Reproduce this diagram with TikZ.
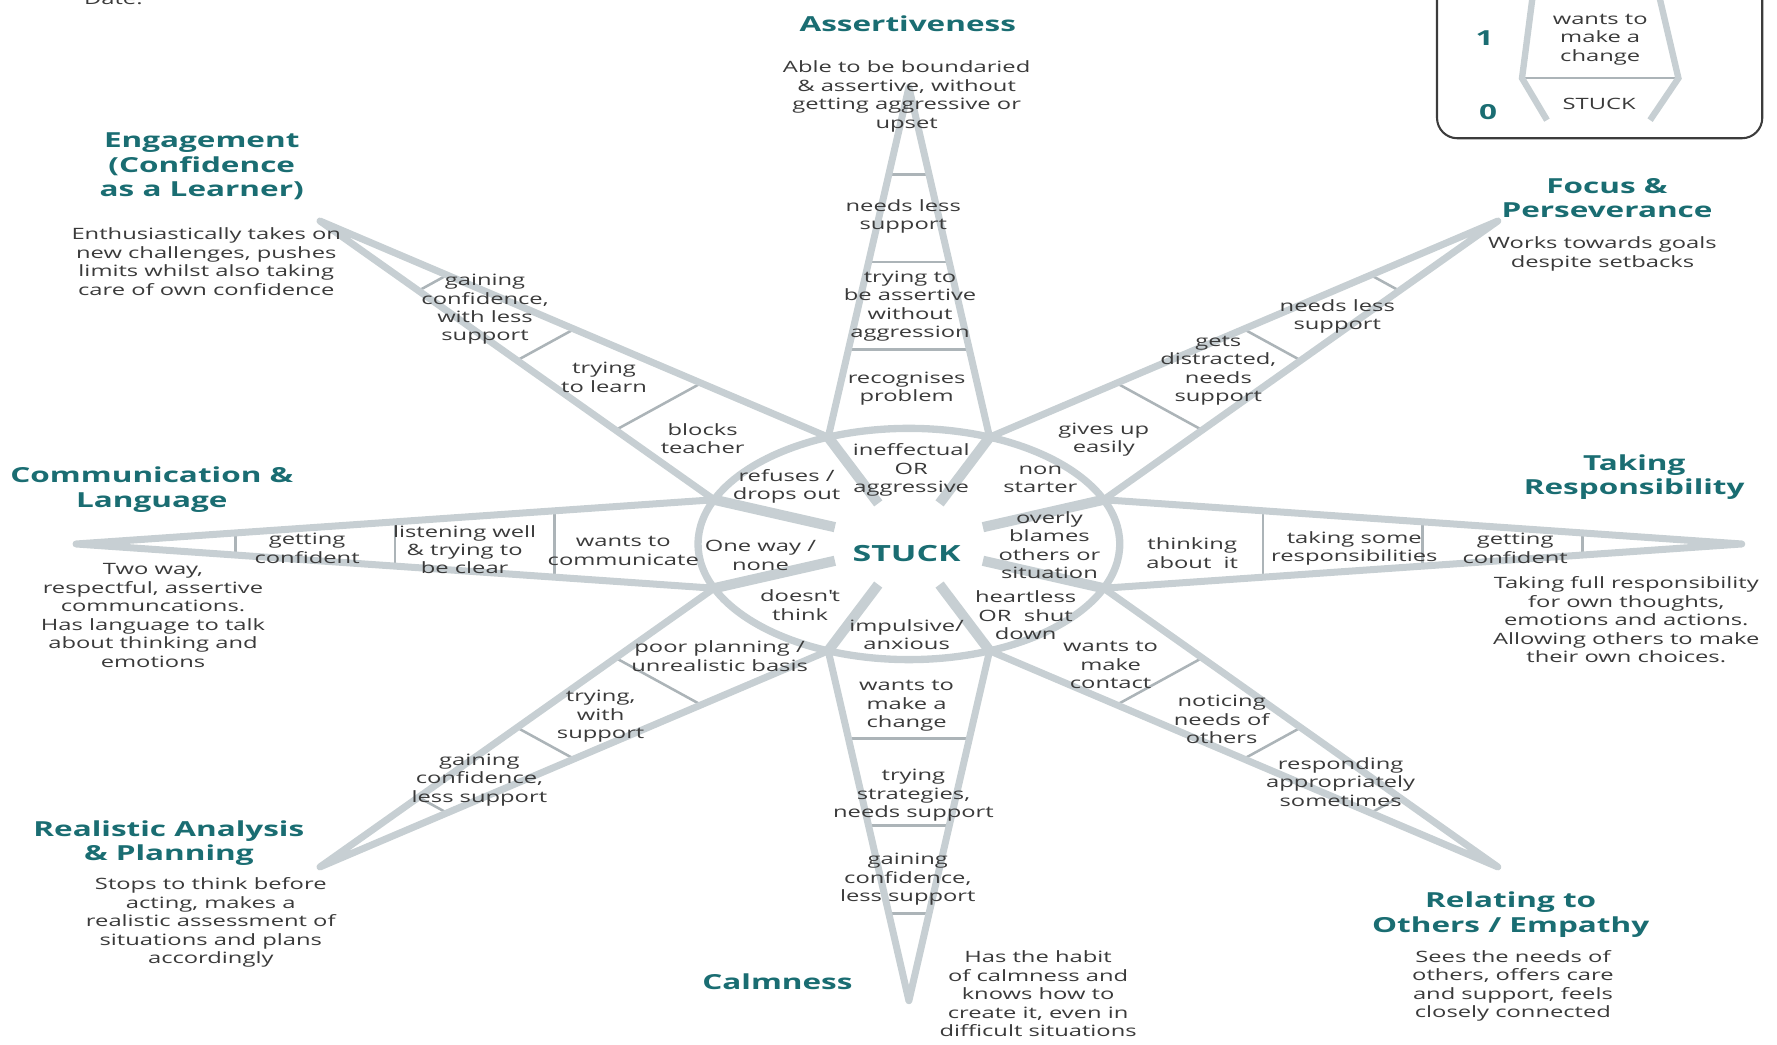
\documentclass[tikz,border=0pt]{standalone}
\usepackage{fontspec}
\setmainfont{Open Sans}[FakeStretch=1.52]
\usetikzlibrary{calc}
\definecolor{spikegray}{RGB}{199,207,211}
\definecolor{runggray}{RGB}{172,180,184}
\definecolor{headteal}{RGB}{26,109,114}
\definecolor{inkgray}{RGB}{58,58,58}
\definecolor{framegray}{RGB}{60,60,60}
\begin{document}
\begin{tikzpicture}
     [
     x=0.025cm, y=-0.025cm,
     spike/.style={draw=spikegray, line width=4.4pt, line join=round, line cap=round},
     spoke/.style={draw=spikegray, line width=6.4pt},
     ring/.style={draw=spikegray, line width=4.6pt},
     rung/.style={draw=runggray, line width=1.6pt},
     stage/.style={align=center, inner sep=0pt, text=inkgray, font=\fontsize{9.8}{11.6}\selectfont},
     heading/.style={align=center, inner sep=0pt, text=headteal, font=\fontsize{13}{15.3}\selectfont\bfseries},
     stuckbox/.style={inner sep=0pt, text=headteal, font=\fontsize{14}{16}\selectfont\bfseries},
     keyframe/.style={draw=framegray, line width=1.3pt, rounded corners=0.45cm},
     keyspike/.style={draw=spikegray, line width=4pt},
     ]
 \useasboundingbox (0,0) rectangle (1568,922);
 % star
 \begin{scope}[shift={(802,480)}, x=4.65cm, y=2.55cm]
 \coordinate (hub) at (0,0);
 \foreach \a [count=\i] in {90,45,0,-45,-90,-135,180,135} {
   \coordinate (tip\i) at (\a:3.95);
   \coordinate (jl\i) at (\a+22.5:1);
   \coordinate (jr\i) at (\a-22.5:1);
   \coordinate (sp\i) at (\a+22.5:0.38);
 }
 \foreach \i in {1,...,8} {
   \foreach \t in {0.25,0.5,0.75}
     \draw[rung] ($(jl\i)!\t!(tip\i)$) -- ($(jr\i)!\t!(tip\i)$);
   \draw[spike] (jl\i) -- (tip\i) -- (jr\i);
   \draw[spoke] (jl\i) -- (sp\i);
 }
 \draw[ring] (hub) circle (1);
 \end{scope}

 \node at (100,4) [stage, anchor=base] (date) {Date:};
 \node at (800,488) [stuckbox] (stuck) {STUCK};

 % inner ring
 \node at (804,415) [stage] (ring1) {ineffectual\\OR\\aggressive};
 \node at (918,423) [stage] (ring2) {non\\starter};
 \node at (926,481) [stage] (ring3) {overly\\blames\\others or\\situation};
 \node at (905,543) [stage] (ring4) {heartless\\OR~ shut\\down};
 \node at (800,560) [stage] (ring5) {impulsive/\\anxious};
 \node at (706,534) [stage] (ring6) {doesn\textquotesingle t\\think};
 \node at (671,490) [stage] (ring7) {One way /\\none};
 \node at (694,429) [stage] (ring8) {refuses /\\drops out};

 % assertiveness
 \node at (801,21) [heading] (asserthead) {Assertiveness};
 \node at (800,85) [stage] (assertabout) {Able to be boundaried\\\& assertive, without\\getting aggressive or\\upset};
 \node at (800,343) [stage] (assert1) {recognises\\problem};
 \node at (803,270) [stage] (assert2) {trying to\\be assertive\\without\\aggression};
 \node at (797,191) [stage] (assert3) {needs less\\support};

 % focus
 \node at (1418,175) [heading] (focushead) {Focus \&\\Perseverance};
 \node at (1414,224) [stage] (focusabout) {Works towards goals\\despite setbacks};
 \node at (974,388) [stage] (focus1) {gives up\\easily};
 \node at (1075,327) [stage] (focus2) {gets\\distracted,\\needs\\support};
 \node at (1180,279) [stage] (focus3) {needs less\\support};

 % responsibility
 \node at (1442,421) [heading] (resphead) {Taking\\Responsibility};
 \node at (1435,547) [stage] (respabout) {Taking full responsibility\\for own thoughts,\\emotions and actions.\\Allowing others to make\\their own choices.};
 \node at (1052,488) [stage] (resp1) {thinking\\about~ it};
 \node at (1195,484) [stage] (resp2) {taking some\\responsibilities};
 \node at (1337,484) [stage] (resp3) {getting\\confident};

 % relating
 \node at (1333,807) [heading] (relatehead) {Relating to\\Others / Empathy};
 \node at (1335,870) [stage] (relateabout) {Sees the needs of\\others, offers care\\and support, feels\\closely connected};
 \node at (980,587) [stage] (relate1) {wants to\\make\\contact};
 \node at (1078,635) [stage] (relate2) {noticing\\needs of\\others};
 \node at (1183,690) [stage] (relate3) {responding\\appropriately\\sometimes};

 % calmness
 \node at (686,866) [heading] (calmhead) {Calmness};
 \node at (916,877) [stage] (calmabout) {Has the habit\\of calmness and\\knows how to\\create it, even in\\difficult situations};
 \node at (800,623) [stage] (calm1) {wants to\\make a\\change};
 \node at (806,702) [stage] (calm2) {trying\\strategies,\\needs support};
 \node at (801,776) [stage] (calm3) {gaining\\confidence,\\less support};

 % planning
 \node at (149,744) [heading] (planhead) {Realistic Analysis\\\& Planning};
 \node at (186,814) [stage] (planabout) {Stops to think before\\acting, makes a\\realistic assessment of\\situations and plans\\accordingly};
 \node at (635,579) [stage] (plan1) {poor planning /\\unrealistic basis};
 \node at (530,632) [stage] (plan2) {trying,\\with\\support};
 \node at (423,688) [stage] (plan3) {gaining\\confidence,\\less support};

 % communication
 \node at (134,432) [heading] (commhead) {Communication \&\\Language};
 \node at (135,543) [stage] (commabout) {Two way,\\respectful, assertive\\communcations.\\Has language to talk\\about thinking and\\emotions};
 \node at (550,486) [stage] (comm1) {wants to\\communicate};
 \node at (410,485) [stage] (comm2) {listening well\\\& trying to\\be clear};
 \node at (271,484) [stage] (comm3) {getting\\confident};

 % engagement
 \node at (178,147) [heading] (engagehead) {Engagement\\(Confidence\\as a Learner)};
 \node at (182,231) [stage] (engageabout) {Enthusiastically takes on\\new challenges, pushes\\limits whilst also taking\\care of own confidence};
 \node at (620,387) [stage] (engage1) {blocks\\teacher};
 \node at (533,333) [stage] (engage2) {trying\\to learn};
 \node at (428,273) [stage] (engage3) {gaining\\confidence,\\with less\\support};

 % key
 \draw[keyframe] (1268,-30) rectangle (1555,122);
 \coordinate (kl1) at (1353,-8);
 \coordinate (kl2) at (1343,69);
 \coordinate (kl3) at (1365,106);
 \coordinate (kr1) at (1463,-8);
 \coordinate (kr2) at (1481,69);
 \coordinate (kr3) at (1456,106);
 \draw[rung] (kl2) -- (kr2);
 \draw[keyspike] (kl1) -- (kl2) -- (kl3);
 \draw[keyspike] (kr1) -- (kr2) -- (kr3);
 \node at (1310,34) [heading] (keyone) {1};
 \node at (1313,99) [heading] (keyzero) {0};
 \node at (1412,35) [stage] (keyup) {wants to\\make a\\change};
 \node at (1411,92) [stage] (keydown) {STUCK};
\end{tikzpicture}
\end{document}
